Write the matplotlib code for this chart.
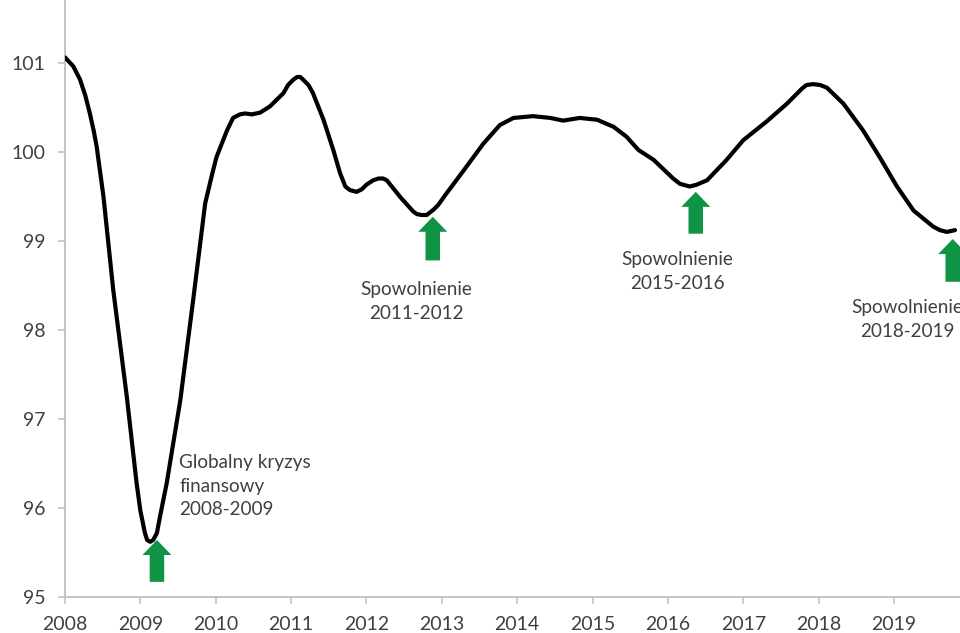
import matplotlib
matplotlib.use("Agg")
import matplotlib.pyplot as plt
from matplotlib.patches import FancyArrow

plt.rcParams['font.family'] = ['Lato', 'DejaVu Sans']

# --- data ---
years = [2008.00, 2008.11, 2008.20, 2008.27, 2008.33, 2008.38, 2008.42, 2008.51, 2008.64,
         2008.82, 2008.95, 2009.00, 2009.06, 2009.09, 2009.13, 2009.17, 2009.22, 2009.26,
         2009.35, 2009.53, 2009.70, 2009.86, 2009.95, 2010.01, 2010.15, 2010.23, 2010.32,
         2010.39, 2010.48, 2010.59, 2010.72, 2010.90, 2010.96, 2011.03, 2011.08, 2011.12,
         2011.16, 2011.23, 2011.29, 2011.43, 2011.56, 2011.65, 2011.72, 2011.78, 2011.87,
         2011.94, 2012.00, 2012.09, 2012.16, 2012.22, 2012.27, 2012.45, 2012.62, 2012.67,
         2012.73, 2012.80, 2012.89, 2012.95, 2013.06, 2013.29, 2013.55, 2013.77, 2013.95,
         2014.21, 2014.44, 2014.61, 2014.83, 2015.06, 2015.28, 2015.45, 2015.61, 2015.81,
         2016.07, 2016.16, 2016.29, 2016.38, 2016.52, 2016.78, 2017.00, 2017.31, 2017.58,
         2017.78, 2017.84, 2017.93, 2018.02, 2018.11, 2018.33, 2018.59, 2018.81, 2019.04,
         2019.26, 2019.52, 2019.61, 2019.70, 2019.81]
values = [101.06, 100.96, 100.81, 100.63, 100.43, 100.24, 100.06, 99.50, 98.45,
          97.25, 96.28, 95.97, 95.72, 95.64, 95.62, 95.64, 95.72, 95.90,
          96.28, 97.21, 98.33, 99.42, 99.74, 99.94, 100.24, 100.38, 100.42,
          100.43, 100.42, 100.44, 100.51, 100.66, 100.75, 100.81, 100.84, 100.84,
          100.81, 100.75, 100.66, 100.36, 100.02, 99.76, 99.61, 99.57, 99.55,
          99.58, 99.63, 99.68, 99.70, 99.70, 99.68, 99.49, 99.33, 99.30,
          99.29, 99.29, 99.35, 99.40, 99.53, 99.79, 100.09, 100.30, 100.38,
          100.40, 100.38, 100.35, 100.38, 100.36, 100.28, 100.17, 100.02, 99.91,
          99.70, 99.64, 99.61, 99.63, 99.68, 99.91, 100.13, 100.34, 100.54,
          100.71, 100.75, 100.76, 100.75, 100.72, 100.54, 100.24, 99.94, 99.61,
          99.34, 99.16, 99.12, 99.10, 99.12]

x_ticks = list(range(2008, 2020))
y_ticks = [95, 96, 97, 98, 99, 100, 101]

# arrows: x centre, bottom, top
arrow_x = [2009.22, 2012.88, 2016.37, 2019.78]
arrow_bottom = [95.17, 98.78, 99.08, 98.54]
arrow_top = [95.64, 99.27, 99.55, 99.02]

# annotations
labels = [["Globalny kryzys", "finansowy", "2008-2009"],
          ["Spowolnienie", "2011-2012"],
          ["Spowolnienie", "2015-2016"],
          ["Spowolnienie", "2018-2019"]]
label_x = [2009.517, 2012.658, 2016.128, 2019.18]
label_y = [96.445, 98.39, 98.727, 98.184]   # baseline of first line
label_ha = ['left', 'center', 'center', 'center']

GREEN = '#0f9345'
TXT = '#404040'
SPINE = '#bfbfbf'

fig = plt.figure(figsize=(9.6, 6.33), dpi=100)
ax = fig.add_axes([65 / 960, 36 / 633, 1 - 65 / 960, 1 - 36 / 633])

ax.plot(years, values, color='black', lw=3, solid_joinstyle='round', solid_capstyle='round',
        zorder=3)

px_x = 75.36  # pixels per year
px_y = 89.0   # pixels per unit
for xc, yb, yt in zip(arrow_x, arrow_bottom, arrow_top):
    arr = FancyArrow(xc, yb, 0, yt - yb, width=14.5 / px_x, head_width=29 / px_x,
                     head_length=15 / px_y, length_includes_head=True,
                     color=GREEN, lw=0, zorder=4)
    ax.add_patch(arr)

line_step = 23.5 / px_y
for lines, lx, ly, ha in zip(labels, label_x, label_y, label_ha):
    for i, t in enumerate(lines):
        ax.text(lx, ly - i * line_step, t, ha=ha, va='baseline', fontsize=13.6,
                color=TXT, zorder=5)

ax.set_xlim(2008, 2008 + (960 - 65) / px_x)
ax.set_ylim(95, 101 + 62.7 / px_y)
ax.set_xticks(x_ticks)
ax.set_xticklabels([str(v) for v in x_ticks])
ax.set_yticks(y_ticks)
ax.set_yticklabels([str(v) for v in y_ticks])

for s in ['top', 'right']:
    ax.spines[s].set_visible(False)
for s in ['left', 'bottom']:
    ax.spines[s].set_color(SPINE)
    ax.spines[s].set_linewidth(1.3)

ax.tick_params(axis='both', direction='out', length=5, width=1.1, color=SPINE,
               labelcolor=TXT, labelsize=14)
ax.tick_params(axis='x', pad=9)
ax.tick_params(axis='y', pad=9)

fig.savefig('out.png', dpi=100)
